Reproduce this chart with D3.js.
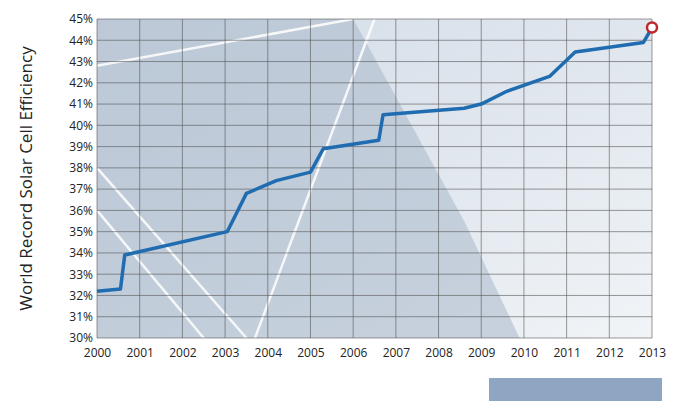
<!DOCTYPE html>
<html><head><meta charset="utf-8">
<script src="https://cdn.jsdelivr.net/npm/d3@7"></script>
<style>body{margin:0;background:#fff}</style></head>
<body><svg id="c" width="680" height="411"></svg>
<script>
const years = [2000,2001,2002,2003,2004,2005,2006,2007,2008,2009,2010,2011,2012,2013];
const yTicks = [30,31,32,33,34,35,36,37,38,39,40,41,42,43,44,45];
const recordYear = [2000,2000.55,2000.65,2003.05,2003.5,2004.2,2005.0,2005.3,2006.6,2006.7,2008.6,2009.0,2009.6,2010.6,2011.2,2012.8,2013.0];
const recordEff  = [32.2,32.3,33.9,35.0,36.8,37.4,37.8,38.9,39.3,40.5,40.8,41.0,41.6,42.3,43.45,43.9,44.6];

const svg = d3.select("#c");
const m = {l:97, r:652, t:19, b:338};
const x = d3.scaleLinear().domain([2000,2013]).range([m.l,m.r]);
const y = d3.scaleLinear().domain([30,45]).range([m.b,m.t]);

const defs = svg.append("defs");
const g1 = defs.append("linearGradient").attr("id","bg").attr("x1",0).attr("y1",0).attr("x2",1).attr("y2",1);
g1.append("stop").attr("offset","0%").attr("stop-color","#d3dce6");
g1.append("stop").attr("offset","50%").attr("stop-color","#dfe6ee");
g1.append("stop").attr("offset","100%").attr("stop-color","#f1f4f7");
svg.append("rect").attr("x",m.l).attr("y",m.t).attr("width",m.r-m.l).attr("height",m.b-m.t).attr("fill","url(#bg)");
svg.append("path").attr("d",`M${x(2000)},${y(45)} L${x(2006)},${y(45)} L${x(2008.6)},${y(35.5)} L${x(2009.9)},${y(30)} L${x(2000)},${y(30)} Z`)
  .attr("fill","#a9b8ca").attr("opacity",0.55);
const streaks=[[2000,42.8,2006,45],[2000,38,2003.5,30],[2003.7,30,2006.5,45],[2000,36,2002.5,30]];
streaks.forEach(s=>svg.append("line").attr("x1",x(s[0])).attr("y1",y(s[1])).attr("x2",x(s[2])).attr("y2",y(s[3])).attr("stroke","#fff").attr("stroke-width",2.5).attr("opacity",0.85));

svg.append("g").selectAll("line").data(years).join("line")
 .attr("x1",d=>x(d)).attr("x2",d=>x(d)).attr("y1",m.t).attr("y2",m.b).attr("stroke","#555").attr("stroke-width",0.6);
svg.append("g").selectAll("line").data(yTicks).join("line")
 .attr("x1",m.l).attr("x2",m.r).attr("y1",d=>y(d)).attr("y2",d=>y(d)).attr("stroke","#555").attr("stroke-width",0.6);

svg.append("g").attr("transform",`translate(0,${m.b})`)
 .call(d3.axisBottom(x).tickValues(years).tickFormat(d3.format("d")).tickSize(0).tickPadding(10))
 .call(g=>{g.select(".domain").remove();g.selectAll("text").attr("font-family","Open Sans").attr("font-size",12).attr("fill","#222");});
svg.append("g").attr("transform",`translate(${m.l},0)`)
 .call(d3.axisLeft(y).tickValues(yTicks).tickFormat(d=>d+"%").tickSize(0).tickPadding(4))
 .call(g=>{g.select(".domain").remove();g.selectAll("text").attr("font-family","Open Sans").attr("font-size",12).attr("fill","#222");});

svg.append("text").attr("transform",`translate(32,${(m.t+m.b)/2}) rotate(-90)`).attr("text-anchor","middle")
 .attr("font-family","Open Sans").attr("font-size",17).attr("fill","#222").text("World Record Solar Cell Efficiency");

const pts = recordYear.map((d,i)=>[d,recordEff[i]]);
svg.append("path").datum(pts).attr("d",d3.line().x(d=>x(d[0])).y(d=>y(d[1])))
 .attr("fill","none").attr("stroke","#1f6cb0").attr("stroke-width",3.5).attr("stroke-linejoin","round");
const last=pts[pts.length-1];
svg.append("circle").attr("cx",x(last[0])).attr("cy",y(last[1])).attr("r",5).attr("fill","#fff").attr("stroke","#c0272d").attr("stroke-width",2.5);

svg.append("rect").attr("x",489).attr("y",378).attr("width",173).attr("height",23).attr("fill","#8ea6c2");
</script></body></html>
